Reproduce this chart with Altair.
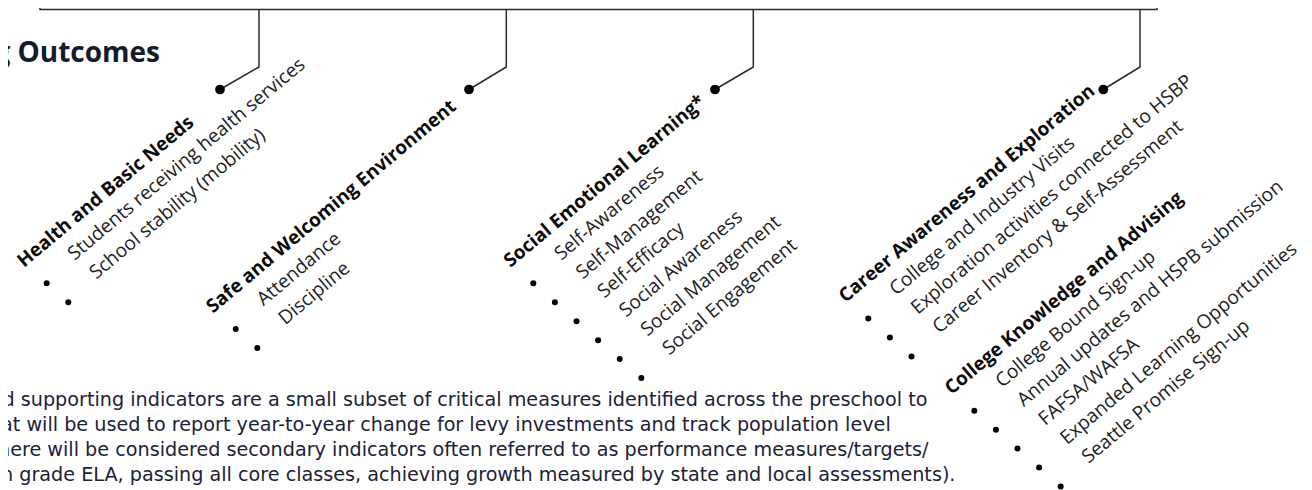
import altair as alt
import pandas as pd

# ---------------- content ----------------
title_text = "g Outcomes"

group_titles = [
    "Health and Basic Needs",
    "Safe and Welcoming Environment",
    "Social Emotional Learning*",
    "Career Awareness and Exploration",
    "College Knowledge and Advising",
]
group_items = [
    ["Students receiving health services", "School stability (mobility)"],
    ["Attendance", "Discipline"],
    ["Self-Awareness", "Self-Management", "Self-Efficacy", "Social Awareness",
     "Social Management", "Social Engagement"],
    ["College and Industry Visits", "Exploration activities connected to HSBP",
     "Career Inventory & Self-Assessment"],
    ["College Bound Sign-up", "Annual updates and HSPB submission", "FAFSA/WAFSA",
     "Expanded Learning Opportunities", "Seattle Promise Sign-up"],
]
note_lines = [
    "d supporting indicators are a small subset of critical measures identified across the preschool to",
    "at will be used to report year-to-year change for levy investments and track population level",
    "here will be considered secondary indicators often referred to as performance measures/targets/",
    "h grade ELA, passing all core classes, achieving growth measured by state and local assessments).",
]

# ---------------- layout (page pixels) ----------------
first_bullet_x = [46.7, 235.7, 533.3, 868.3, 974.3]
first_bullet_y = [283.3, 329.0, 283.3, 318.5, 410.7]
step_x, step_y = 21.6, 18.95
item_dx, item_dy = 24.0, -27.0
head_dx, head_dy = -5.0, -1.0

conn_x = [259.0, 506.3, 753.3, 1140.0]
conn_dot_x = [220.0, 469.0, 715.0, 1103.3]
box_left, box_right, box_y = 40.0, 1157.0, 9.5
conn_bend_y, conn_dot_y = 67.0, 89.5

note_x = [2.5, 1.0, -2.0, 1.0]
note_y = [405.5, 430.8, 456.1, 481.2]

# ---------------- build tables ----------------
heads, items, bullets = [], [], []
for g, (t, its) in enumerate(zip(group_titles, group_items)):
    bx, by = first_bullet_x[g], first_bullet_y[g]
    heads.append({"x": bx - step_x + head_dx, "y": by - step_y + head_dy, "t": t})
    for i, it in enumerate(its):
        px, py = bx + i * step_x, by + i * step_y
        bullets.append({"x": px, "y": py})
        items.append({"x": px + item_dx, "y": py + item_dy, "t": it})

paths = [{"g": "box", "o": 0, "x": box_left, "y": 0.0},
         {"g": "box", "o": 1, "x": box_left, "y": box_y},
         {"g": "box", "o": 2, "x": box_right, "y": box_y},
         {"g": "box", "o": 3, "x": box_right, "y": 0.0}]
dots = []
for k in range(4):
    paths += [{"g": f"c{k}", "o": 0, "x": conn_x[k], "y": box_y},
              {"g": f"c{k}", "o": 1, "x": conn_x[k], "y": conn_bend_y},
              {"g": f"c{k}", "o": 2, "x": conn_dot_x[k], "y": conn_dot_y}]
    dots.append({"x": conn_dot_x[k], "y": conn_dot_y})

notes = pd.DataFrame({"x": note_x, "y": note_y, "t": note_lines})
title_df = pd.DataFrame({"x": [160.0], "y": [62.0], "t": [title_text]})

X = alt.X("x:Q", scale=alt.Scale(domain=[8, 1304], nice=False, zero=False), axis=None)
Y = alt.Y("y:Q", scale=alt.Scale(domain=[8, 490], nice=False, zero=False, reverse=True), axis=None)

FONT = "Open Sans"

lines = alt.Chart(pd.DataFrame(paths)).mark_line(color="#2b2b2b", strokeWidth=1.5).encode(
    x=X, y=Y, detail="g:N", order="o:Q")
head_dots = alt.Chart(pd.DataFrame(dots)).mark_point(
    filled=True, shape="circle", size=95, color="#000000", opacity=1).encode(x=X, y=Y)
bullet_dots = alt.Chart(pd.DataFrame(bullets)).mark_point(
    filled=True, shape="circle", size=36, color="#000000", opacity=1).encode(x=X, y=Y)
head_text = alt.Chart(pd.DataFrame(heads)).mark_text(
    angle=320, align="left", baseline="middle", font=FONT, fontSize=19,
    fontWeight="bold", color="#0a0a0a").encode(x=X, y=Y, text="t:N")
item_text = alt.Chart(pd.DataFrame(items)).mark_text(
    angle=320, align="left", baseline="middle", font=FONT, fontSize=19.2,
    color="#1e1e1e").encode(x=X, y=Y, text="t:N")
note_text = alt.Chart(notes).mark_text(
    align="left", baseline="alphabetic", font="DejaVu Sans", fontSize=19.2,
    color="#1c2238").encode(x=X, y=Y, text="t:N")
title = alt.Chart(title_df).mark_text(
    align="right", baseline="alphabetic", font=FONT, fontSize=28,
    fontWeight="bold", color="#141b2d").encode(x=X, y=Y, text="t:N")

chart = alt.layer(lines, head_dots, bullet_dots, head_text, item_text, note_text, title).properties(
    width=1296, height=482, padding=0,
    autosize=alt.AutoSizeParams(type="none"),
    background="white",
).configure_view(stroke=None)

chart.save("out.html", embed_options={"renderer": "svg", "actions": False})
